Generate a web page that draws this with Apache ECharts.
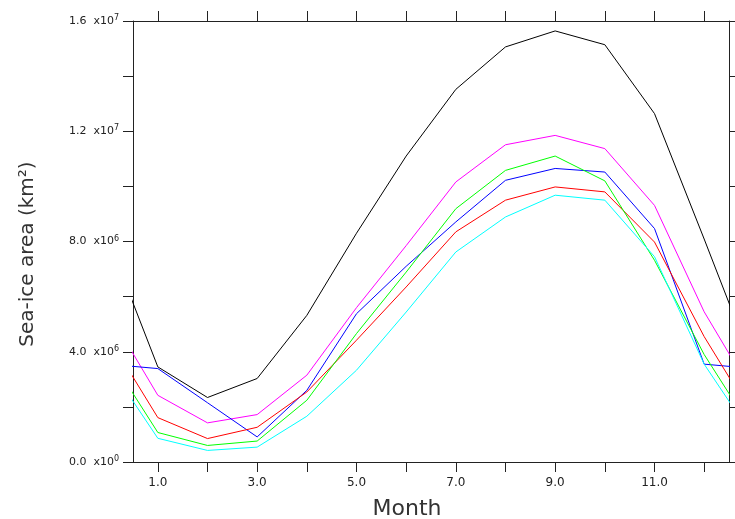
<!DOCTYPE html>
<html>
<head>
<meta charset="utf-8">
<script src="https://cdn.jsdelivr.net/npm/echarts@6/dist/echarts.min.js"></script>
<style>
  html, body { margin: 0; padding: 0; background: #fff; }
  #chart { width: 735px; height: 519px; }
</style>
</head>
<body>
<div id="chart"></div>
<script>
// monthly sea-ice area, units of 1e6 km2 (Jan..Dec)
var months = [1, 2, 3, 4, 5, 6, 7, 8, 9, 10, 11, 12];
var monthTicks = [1, 2, 3, 4, 5, 6, 7, 8, 9, 10, 11, 12];
var monthLabels = [1, 3, 5, 7, 9, 11];
var yTicks = [0, 2, 4, 6, 8, 10, 12, 14, 16];
var yLabels = [0, 4, 8, 12, 16];

var iceBlack   = [3.45, 2.34, 3.03, 5.32, 8.30, 11.10, 13.52, 15.06, 15.64, 15.14, 12.64, 8.09];
var iceMagenta = [2.42, 1.42, 1.72, 3.15, 5.60, 7.85, 10.16, 11.51, 11.85, 11.37, 9.31, 5.45];
var iceBlue    = [3.39, 2.15, 0.91, 2.60, 5.38, 7.10, 8.71, 10.22, 10.65, 10.52, 8.47, 3.55];
var iceRed     = [1.61, 0.85, 1.26, 2.54, 4.42, 6.35, 8.35, 9.50, 9.98, 9.80, 7.98, 4.55];
var iceGreen   = [1.07, 0.60, 0.76, 2.24, 4.66, 6.89, 9.19, 10.58, 11.10, 10.20, 7.32, 3.90];
var iceCyan    = [0.86, 0.42, 0.54, 1.66, 3.33, 5.44, 7.62, 8.89, 9.68, 9.50, 7.45, 3.55];

// cyclic: previous Dec at x=0 and next Jan at x=13, clipped by the axis
function cyc(vals) {
    var out = [[0, vals[11]]];
    for (var i = 0; i < months.length; i++) {
        out.push([months[i], vals[i]]);
    }
    out.push([13, vals[0]]);
    return out;
}

function mkSeries(name, vals, color) {
    return {
        name: name,
        type: 'line',
        data: cyc(vals),
        symbol: 'none',
        clip: true,
        lineStyle: { color: color, width: 1 },
        animation: false
    };
}

function yFmt(v) {
    var raw = v * 1e6;
    var e = raw === 0 ? 0 : Math.floor(Math.log10(raw) + 1e-9);
    var m = (raw / Math.pow(10, e)).toFixed(1);
    return '{b|' + m + '  x10}{s|' + e + '}';
}

var axisCol = '#222';
var fontFam = 'DejaVu Sans, sans-serif';

var option = {
    backgroundColor: '#fff',
    grid: { left: 133, right: 6, top: 21, bottom: 57 },
    xAxis: [
        {
            type: 'value',
            min: 0.5,
            max: 12.5,
            axisLine: { onZero: false, lineStyle: { color: axisCol, width: 1 } },
            axisTick: { customValues: monthTicks, length: 10, inside: false, lineStyle: { color: axisCol } },
            axisLabel: {
                customValues: monthLabels,
                margin: 15,
                color: '#222',
                fontSize: 12,
                fontFamily: fontFam,
                formatter: function (v) { return v.toFixed(1); }
            },
            splitLine: { show: false }
        },
        {
            type: 'value',
            position: 'top',
            min: 0.5,
            max: 12.5,
            axisLine: { show: true, onZero: false, lineStyle: { color: axisCol, width: 1 } },
            axisTick: { customValues: monthTicks, length: 10, lineStyle: { color: axisCol } },
            axisLabel: { show: false },
            splitLine: { show: false }
        }
    ],
    yAxis: [
        {
            type: 'value',
            min: 0,
            max: 16,
            axisLine: { show: true, onZero: false, lineStyle: { color: axisCol, width: 1 } },
            axisTick: { customValues: yTicks, length: 10, lineStyle: { color: axisCol } },
            axisLabel: {
                customValues: yLabels,
                margin: 14,
                formatter: yFmt,
                rich: {
                    b: { fontSize: 11, color: '#222', fontFamily: fontFam, lineHeight: 14 },
                    s: { fontSize: 8, color: '#222', fontFamily: fontFam, verticalAlign: 'top', lineHeight: 14 }
                }
            },
            splitLine: { show: false }
        },
        {
            type: 'value',
            position: 'right',
            min: 0,
            max: 16,
            axisLine: { show: true, onZero: false, lineStyle: { color: axisCol, width: 1 } },
            axisTick: { customValues: yTicks, length: 10, lineStyle: { color: axisCol } },
            axisLabel: { show: false },
            splitLine: { show: false }
        }
    ],
    graphic: [
        {
            type: 'text',
            x: 407,
            y: 509,
            style: {
                text: 'Month',
                font: '22px ' + fontFam,
                fill: '#333',
                textAlign: 'center',
                textVerticalAlign: 'middle'
            }
        },
        {
            type: 'text',
            x: 28,
            y: 254,
            rotation: Math.PI / 2,
            style: {
                text: 'Sea-ice area (km\u00b2)',
                font: '20px ' + fontFam,
                fill: '#333',
                textAlign: 'center',
                textVerticalAlign: 'middle'
            }
        }
    ],
    series: [
        mkSeries('black', iceBlack, '#000000'),
        mkSeries('magenta', iceMagenta, '#ff00ff'),
        mkSeries('blue', iceBlue, '#0000ff'),
        mkSeries('red', iceRed, '#ff0000'),
        mkSeries('green', iceGreen, '#00ff00'),
        mkSeries('cyan', iceCyan, '#00ffff')
    ]
};

var myChart = echarts.init(document.getElementById('chart'));
myChart.setOption(option);
</script>
</body>
</html>
